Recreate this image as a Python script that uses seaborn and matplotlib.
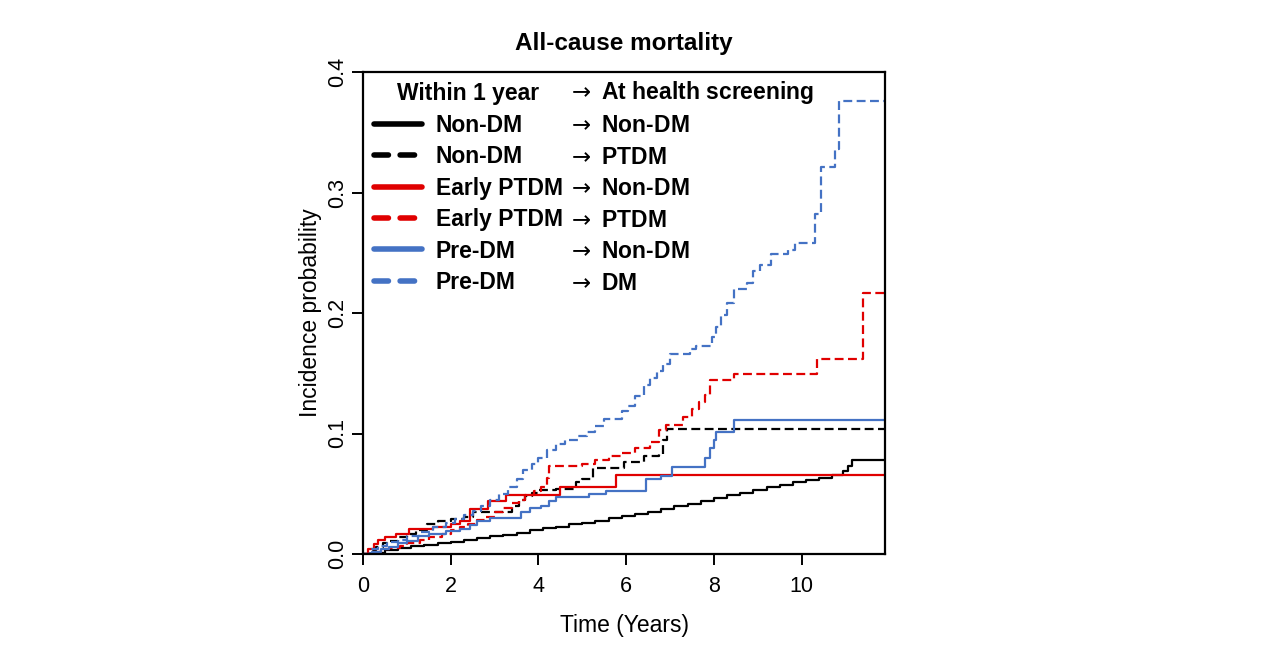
import matplotlib
matplotlib.use("Agg")
import matplotlib.pyplot as plt
import pandas as pd
import seaborn as sns
from matplotlib.lines import Line2D

# ---- data (cumulative incidence, step functions) ----
groups = [
    "Non-DM|Non-DM",
    "Non-DM|PTDM",
    "Early PTDM|Non-DM",
    "Early PTDM|PTDM",
    "Pre-DM|Non-DM",
    "Pre-DM|DM",
]
within_1y = ["Non-DM", "Non-DM", "Early PTDM", "Early PTDM", "Pre-DM", "Pre-DM"]
at_screening = ["Non-DM", "PTDM", "Non-DM", "PTDM", "Non-DM", "DM"]

t_nondm_nondm = [0, 0.2, 0.5, 0.8, 1.1, 1.4, 1.7, 2.0, 2.3, 2.6, 2.9, 3.2, 3.5, 3.8,
                 4.1, 4.4, 4.7, 5.0, 5.3, 5.6, 5.9, 6.2, 6.5, 6.8, 7.1, 7.4, 7.7, 8.0,
                 8.3, 8.6, 8.9, 9.2, 9.5, 9.8, 10.1, 10.4, 10.7, 10.95, 11.05, 11.15,
                 11.9]
y_nondm_nondm = [0, 0.001, 0.003, 0.005, 0.0065, 0.0078, 0.009, 0.0103, 0.0118, 0.0132,
                 0.0146, 0.016, 0.0178, 0.0196, 0.0213, 0.0228, 0.0245, 0.026, 0.0277,
                 0.0298, 0.0318, 0.0333, 0.035, 0.0372, 0.0395, 0.0418, 0.0443, 0.0465,
                 0.0487, 0.0508, 0.053, 0.0553, 0.0575, 0.0595, 0.0615, 0.0633, 0.0655,
                 0.0685, 0.073, 0.078, 0.078]

t_nondm_ptdm = [0, 0.15, 0.3, 0.45, 0.6, 0.8, 1.0, 1.2, 1.45, 1.7, 2.0, 2.3, 2.5, 3.4,
                3.55, 3.7, 3.85, 4.0, 4.4, 4.85, 5.0, 5.25, 5.95, 6.4, 6.75, 6.85, 6.92,
                11.9]
y_nondm_ptdm = [0, 0.003, 0.006, 0.009, 0.011, 0.014, 0.017, 0.020, 0.025, 0.027, 0.029,
                0.031, 0.035, 0.040, 0.045, 0.048, 0.051, 0.053, 0.054, 0.060, 0.062,
                0.071, 0.076, 0.081, 0.083, 0.095, 0.104, 0.104]

t_early_nondm = [0, 0.12, 0.25, 0.35, 0.5, 0.75, 1.05, 1.6, 2.0, 2.2, 2.45, 2.85, 3.25,
                 4.5, 5.77, 11.9]
y_early_nondm = [0, 0.004, 0.008, 0.012, 0.014, 0.017, 0.021, 0.022, 0.025, 0.027, 0.037,
                 0.044, 0.049, 0.0555, 0.0655, 0.0655]

t_early_ptdm = [0, 0.2, 0.4, 0.6, 0.85, 1.0, 1.3, 1.5, 1.8, 2.0, 2.2, 2.4, 2.6, 2.8, 3.0,
                3.2, 3.4, 3.55, 3.7, 3.9, 4.05, 4.2, 4.25, 5.0, 5.3, 5.6, 5.9, 6.2, 6.55,
                6.75, 6.9, 7.3, 7.5, 7.65, 7.8, 7.9, 8.45, 10.35, 11.4, 11.9]
y_early_ptdm = [0, 0.002, 0.004, 0.005, 0.007, 0.009, 0.012, 0.014, 0.017, 0.020, 0.022,
                0.025, 0.028, 0.031, 0.035, 0.038, 0.042, 0.045, 0.049, 0.052, 0.056,
                0.063, 0.073, 0.075, 0.078, 0.081, 0.084, 0.088, 0.093, 0.103, 0.107,
                0.114, 0.120, 0.126, 0.132, 0.144, 0.149, 0.162, 0.217, 0.217]

t_pre_nondm = [0, 0.2, 0.4, 0.6, 0.8, 1.0, 1.25, 1.5, 1.9, 2.2, 2.45, 2.6, 2.9, 3.6, 3.8,
               4.05, 4.25, 4.4, 5.15, 5.55, 6.45, 6.8, 7.05, 7.8, 7.9, 8.0, 8.05, 8.45,
               11.9]
y_pre_nondm = [0, 0.002, 0.004, 0.006, 0.009, 0.011, 0.015, 0.017, 0.019, 0.021, 0.024,
               0.027, 0.0296, 0.035, 0.0385, 0.040, 0.044, 0.047, 0.050, 0.0525, 0.0625,
               0.065, 0.0725, 0.080, 0.088, 0.0945, 0.101, 0.111, 0.111]

t_pre_dm = [0, 0.15, 0.35, 0.55, 0.8, 1.0, 1.3, 1.6, 1.9, 2.1, 2.3, 2.5, 2.7, 2.9, 3.1,
            3.3, 3.5, 3.65, 3.85, 4.0, 4.2, 4.4, 4.6, 4.9, 5.1, 5.3, 5.5, 5.9, 6.05, 6.2,
            6.4, 6.55, 6.7, 6.85, 7.0, 7.45, 7.6, 7.95, 8.05, 8.15, 8.3, 8.45, 8.75, 8.9,
            9.05, 9.3, 9.7, 9.85, 10.3, 10.45, 10.75, 10.85, 11.9]
y_pre_dm = [0, 0.004, 0.007, 0.010, 0.012, 0.015, 0.018, 0.022, 0.026, 0.029, 0.032,
            0.036, 0.040, 0.045, 0.050, 0.056, 0.062, 0.070, 0.075, 0.080, 0.086, 0.091,
            0.095, 0.098, 0.101, 0.106, 0.112, 0.119, 0.123, 0.131, 0.140, 0.146, 0.152,
            0.158, 0.166, 0.170, 0.173, 0.180, 0.188, 0.198, 0.208, 0.220, 0.225, 0.235,
            0.240, 0.249, 0.252, 0.258, 0.282, 0.321, 0.336, 0.376, 0.376]

times = [t_nondm_nondm, t_nondm_ptdm, t_early_nondm, t_early_ptdm, t_pre_nondm, t_pre_dm]
probs = [y_nondm_nondm, y_nondm_ptdm, y_early_nondm, y_early_ptdm, y_pre_nondm, y_pre_dm]

x_ticks = [0, 2, 4, 6, 8, 10]
y_ticks = [0.0, 0.1, 0.2, 0.3, 0.4]

# ---- styles ----
RED = "#E00000"
BLUE = "#4472C4"
palette = dict(zip(groups, ["black", "black", RED, RED, BLUE, BLUE]))
dashes = dict(zip(groups, ["", (4, 2), "", (4, 2), "", (4, 2)]))

df = pd.concat(
    [pd.DataFrame({"time": t, "prob": y, "group": g}) for g, t, y in zip(groups, times, probs)],
    ignore_index=True,
)

sns.set_style("ticks")
plt.rcParams["font.family"] = ["Liberation Sans", "DejaVu Sans"]
plt.rcParams["mathtext.fontset"] = "dejavusans"
for key in ["text.color", "axes.labelcolor", "xtick.color", "ytick.color", "axes.edgecolor"]:
    plt.rcParams[key] = "black"

fig = plt.figure(figsize=(12.68, 6.6), dpi=100)
ax = fig.add_axes([363 / 1268, 1 - 554 / 660, (885 - 363) / 1268, (554 - 72) / 660])

sns.lineplot(
    data=df, x="time", y="prob", hue="group", style="group",
    palette=palette, dashes=dashes, hue_order=groups, style_order=groups,
    estimator=None, drawstyle="steps-post", linewidth=1.6, legend=False, ax=ax,
)

ax.set_xlim(0, 11.9)
ax.set_ylim(0, 0.4)
ax.set_xticks(x_ticks)
ax.set_xticklabels([str(v) for v in x_ticks], fontsize=15.5)
ax.set_yticks(y_ticks)
ax.set_yticklabels([f"{v:.1f}" for v in y_ticks], fontsize=15.5, rotation=90, va="center")
ax.tick_params(axis="x", length=8, width=1.4, pad=8)
ax.tick_params(axis="y", length=8, width=1.4, pad=2.5)
for s in ax.spines.values():
    s.set_linewidth(1.6)
    s.set_visible(True)

ax.set_xlabel("Time (Years)", fontsize=16.5, labelpad=12)
ax.set_ylabel("Incidence probability", fontsize=16.5, labelpad=4)
ax.set_title("All-cause mortality", fontsize=17.5, fontweight="bold", pad=16)

# ---- two-column legend ----
handles = []
for g in groups:
    h = Line2D([], [], color=palette[g], lw=4, solid_capstyle="round", dash_capstyle="round")
    if dashes[g]:
        h.set_dashes((2.6, 2.1))
    handles.append(h)

leg_kw = dict(frameon=False, loc="upper left", borderpad=0, borderaxespad=0,
              labelspacing=0.37, prop={"weight": "bold", "size": 16.5},
              title_fontproperties={"weight": "bold", "size": 16.5})
leg1 = ax.legend(handles, within_1y, title="Within 1 year",
                 bbox_to_anchor=(0.021, 0.979), handlelength=2.1, handletextpad=0.6,
                 **leg_kw)
ax.add_artist(leg1)

arrow = r"$\rightarrow$ "
blank = [Line2D([], [], linestyle="none") for _ in groups]
leg2 = ax.legend(blank, [arrow + s for s in at_screening],
                 title=arrow + "At health screening", alignment="left",
                 bbox_to_anchor=(0.390, 0.986), handlelength=0, handletextpad=0,
                 **leg_kw)

fig.savefig("out.png", dpi=100)
